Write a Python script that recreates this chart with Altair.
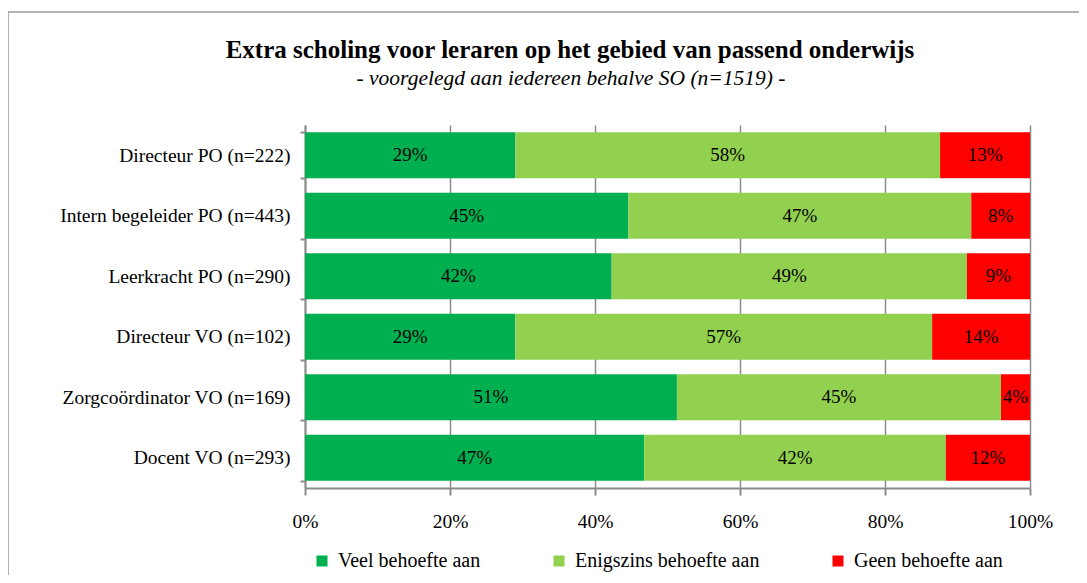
import altair as alt
import pandas as pd

title_text = "Extra scholing voor leraren op het gebied van passend onderwijs"
subtitle_text = "- voorgelegd aan iedereen behalve SO (n=1519) -"

categories = [
    "Directeur PO (n=222)",
    "Intern begeleider PO (n=443)",
    "Leerkracht PO (n=290)",
    "Directeur VO (n=102)",
    "Zorgcoördinator VO (n=169)",
    "Docent VO (n=293)",
]
series = ["Veel behoefte aan", "Enigszins behoefte aan", "Geen behoefte aan"]
colors = ["#00B050", "#92D050", "#FF0000"]

veel = [29.0, 44.6, 42.3, 29.0, 51.3, 46.8]
enigszins = [58.6, 47.3, 49.0, 57.5, 44.7, 41.6]
geen = [12.4, 8.1, 8.7, 13.5, 4.0, 11.6]

veel_lbl = ["29%", "45%", "42%", "29%", "51%", "47%"]
enig_lbl = ["58%", "47%", "49%", "57%", "45%", "42%"]
geen_lbl = ["13%", "8%", "9%", "14%", "4%", "12%"]

x_ticks = [0, 0.2, 0.4, 0.6, 0.8, 1.0]

rows = []
for vals, lbls, s, o in [(veel, veel_lbl, series[0], 0),
                         (enigszins, enig_lbl, series[1], 1),
                         (geen, geen_lbl, series[2], 2)]:
    for c, v, l in zip(categories, vals, lbls):
        rows.append({"cat": c, "series": s, "order": o, "value": v / 100.0, "label": l})
df = pd.DataFrame(rows)

FONT = "Liberation Serif"
GRAY = "#8C8C8C"

base = alt.Chart(df).transform_window(
    cum="sum(value)", groupby=["cat"], sort=[alt.SortField("order")],
    frame=[None, 0]
).transform_calculate(
    start="datum.cum - datum.value",
    mid="datum.cum - datum.value / 2",
)

yenc = alt.Y("cat:N", sort=categories, title=None,
             scale=alt.Scale(paddingInner=0.24, paddingOuter=0.12),
             axis=alt.Axis(tickBand="extent", labelFont=FONT, labelFontSize=19.5,
                           labelColor="#000000", labelPadding=10, tickSize=5,
                           domainColor=GRAY, tickColor=GRAY, domainWidth=2, tickWidth=2,
                           grid=False, labelLimit=400))

bars = base.mark_bar().encode(
    x=alt.X("start:Q", scale=alt.Scale(domain=[0, 1], nice=False), title=None,
            axis=alt.Axis(values=x_ticks, format=".0%", labelFlush=False,
                          labelFont=FONT, labelFontSize=19.5, labelColor="#000000",
                          labelPadding=17, tickSize=7, domainColor=GRAY, tickColor=GRAY,
                          domainWidth=2, tickWidth=2, grid=True, gridColor=GRAY,
                          gridWidth=1.5)),
    x2="cum:Q",
    y=yenc,
    color=alt.Color("series:N", sort=series,
                    scale=alt.Scale(domain=series, range=colors),
                    legend=alt.Legend(title=None, orient="none", direction="horizontal",
                                      legendX=7, legendY=426, symbolType="square",
                                      symbolSize=121, symbolStrokeWidth=0,
                                      labelFont=FONT, labelFontSize=20,
                                      labelColor="#000000", columnPadding=68,
                                      labelOffset=6, padding=0, labelLimit=500)),
    order=alt.Order("order:Q"),
)

texts = base.mark_text(font=FONT, fontSize=19, color="#000000").encode(
    x=alt.X("mid:Q"),
    y=alt.Y("cat:N", sort=categories),
    text="label:N",
)

one = alt.Data(values=[{}])

frame = alt.Chart(one).mark_rect(
    fill=None, stroke="#9A9A9A", strokeWidth=1.5
).encode(
    x=alt.value(-297), x2=alt.value(800), y=alt.value(-113), y2=alt.value(500)
)

title_mark = alt.Chart(one).mark_text(
    font=FONT, fontSize=25, fontWeight="bold", color="#000000",
    align="center", baseline="alphabetic"
).encode(x=alt.value(265), y=alt.value(-67), text=alt.value(title_text))

subtitle_mark = alt.Chart(one).mark_text(
    font=FONT, fontSize=21.5, fontStyle="italic", color="#000000",
    align="center", baseline="alphabetic"
).encode(x=alt.value(266), y=alt.value(-40), text=alt.value(subtitle_text))

chart = alt.layer(frame, bars, texts, title_mark, subtitle_mark).properties(
    width=725, height=363,
    padding={"left": 297, "top": 117, "right": 49, "bottom": 87},
    autosize=alt.AutoSizeParams(type="none"),
).configure_view(stroke=None)

chart.save("out.html", embed_options={"renderer": "svg", "actions": False})
